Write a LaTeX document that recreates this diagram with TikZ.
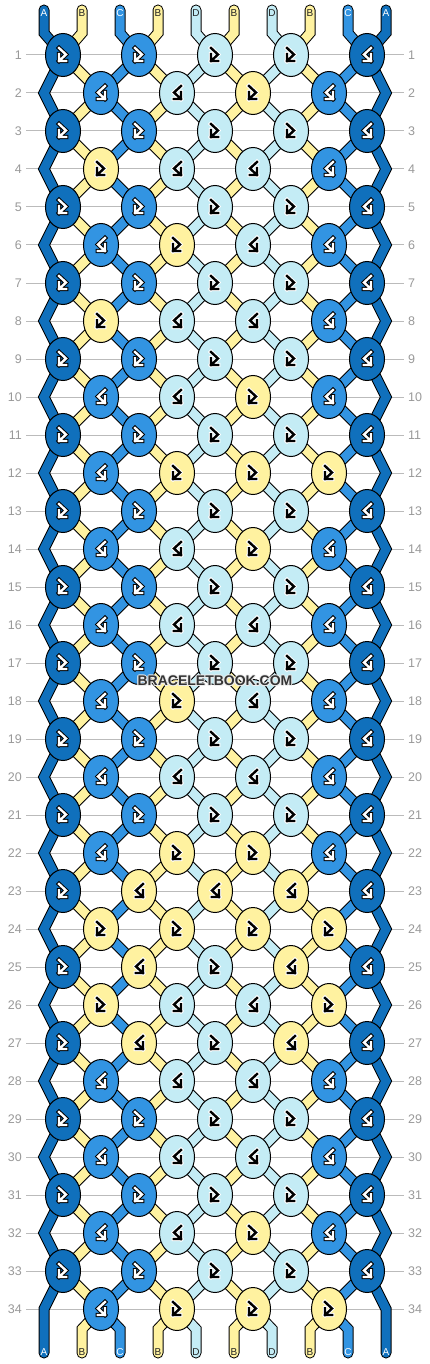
\documentclass[tikz,border=0pt]{standalone}
\usepackage{fontspec}
\setmainfont{Liberation Sans}
\usetikzlibrary{shapes.geometric}
\definecolor{cA}{HTML}{1070BC}
\definecolor{cB}{HTML}{FFF2A0}
\definecolor{cC}{HTML}{3294E2}
\definecolor{cD}{HTML}{C4ECF5}
\colorlet{fgA}{white}\colorlet{bgA}{black}
\colorlet{fgC}{white}\colorlet{bgC}{black}
\colorlet{fgB}{black}\colorlet{bgB}{white}
\colorlet{fgD}{black}\colorlet{bgD}{white}
\colorlet{tlA}{white}\colorlet{tlC}{white}
\definecolor{tlB}{HTML}{222222}\definecolor{tlD}{HTML}{222222}
\definecolor{rowgray}{HTML}{999999}
\definecolor{linegray}{HTML}{BBBBBB}
\definecolor{wmgray}{HTML}{333333}
\def\rowsdata{%
1/{A/f,C/f,D/f,D/f,A/b},
2/{C/b,D/b,B/f,C/b},
3/{A/f,C/f,D/f,D/f,A/b},
4/{B/f,D/b,D/b,C/b},
5/{A/f,C/f,D/f,D/f,A/b},
6/{C/b,B/f,D/b,C/b},
7/{A/f,C/f,D/f,D/f,A/b},
8/{B/f,D/b,D/b,C/b},
9/{A/f,C/f,D/f,D/f,A/b},
10/{C/b,D/b,B/f,C/b},
11/{A/f,C/f,D/f,D/f,A/b},
12/{C/b,B/f,B/f,B/f},
13/{A/f,C/f,D/f,D/f,A/b},
14/{C/b,D/b,B/f,C/b},
15/{A/f,C/f,D/f,D/f,A/b},
16/{C/b,D/b,D/b,C/b},
17/{A/f,C/f,D/f,D/f,A/b},
18/{C/b,B/f,D/b,C/b},
19/{A/f,C/f,D/f,D/f,A/b},
20/{C/b,D/b,D/b,C/b},
21/{A/f,C/f,D/f,D/f,A/b},
22/{C/b,B/f,B/f,C/b},
23/{A/f,B/b,B/b,B/b,A/b},
24/{B/f,B/f,B/f,B/f},
25/{A/f,B/b,D/f,B/b,A/b},
26/{B/f,D/b,D/b,B/f},
27/{A/f,B/b,D/f,B/b,A/b},
28/{C/b,D/b,D/b,C/b},
29/{A/f,C/f,D/f,D/f,A/b},
30/{C/b,D/b,D/b,C/b},
31/{A/f,C/f,D/f,D/f,A/b},
32/{C/b,D/b,B/f,C/b},
33/{A/f,C/f,D/f,D/f,A/b},
34/{C/b,B/f,B/f,B/f}}
\begin{document}
\begin{tikzpicture}[x=1pt,y=-1pt,
  knotsty/.style={ellipse, draw=black, line width=1pt, minimum width=35pt, minimum height=43pt, inner sep=0pt},
  strout/.style={line width=11pt, draw=black, line cap=round, line join=miter},
  strin/.style={line width=9pt, line cap=round, line join=miter},
  rowlab/.style={text=rowgray, font=\fontsize{12.5}{13}\selectfont, inner sep=0pt},
  rowline/.style={draw=linegray, line width=1pt, shorten <=4pt, shorten >=4pt},
  endlab/.style={font=\fontsize{10}{10}\selectfont, inner sep=0pt},
  glout/.style={line width=4.4pt, line cap=rect, line join=miter},
  glin/.style={line width=2.4pt, line cap=rect, line join=miter},
  wmtext/.style={font=\bfseries\fontsize{14}{14}\selectfont, inner sep=0pt}]
\fill[white] (0,0) rectangle (430,1364);
\useasboundingbox (0,0) rectangle (430,1364);
% row labels and rules
\foreach \r in {1,...,34}{
  \pgfmathtruncatemacro\y{55+38*(\r-1)}
  \node[rowlab, anchor=east] (rl-\r) at (22,\y) {\r};
  \node[rowlab, anchor=west] (rr-\r) at (408,\y) {\r};
  \draw[rowline] (rl-\r.east) -- (rr-\r.west);
}
% knot centres and edge points
\foreach \r/\ks in \rowsdata {
  \pgfmathtruncatemacro\y{55+38*(\r-1)}
  \ifodd\r\relax\def\xo{63}\else\def\xo{101}\fi
  \foreach \kc/\kt [count=\j from 0] in \ks {
    \pgfmathtruncatemacro\x{\xo+76*\j}
    \coordinate (kc-\r-\j) at (\x,\y);
  }
  \ifodd\r\relax\else
    \coordinate (eL-\r) at (44,\y);
    \coordinate (eR-\r) at (386,\y);
  \fi
}
% string points
\foreach \i in {0,...,9}{
  \pgfmathtruncatemacro\sx{44+38*\i}
  \coordinate (t-\i) at (\sx,10);
  \coordinate (tb-\i) at (\sx,33);
  \coordinate (bb-\i) at (\sx,1329);
  \coordinate (b-\i) at (\sx,1353);
  \foreach \r in {1,...,34}{
    \ifodd\r\relax
      \pgfmathtruncatemacro\j{floor(\i/2)}
      \coordinate (s-\i-\r) at (kc-\r-\j);
    \else
      \ifnum\i=0 \coordinate (s-\i-\r) at (eL-\r);
      \else\ifnum\i=9 \coordinate (s-\i-\r) at (eR-\r);
      \else
        \pgfmathtruncatemacro\j{floor((\i-1)/2)}
        \coordinate (s-\i-\r) at (kc-\r-\j);
      \fi\fi
    \fi
  }
}
% strings: outlines then colours
\foreach \i in {0,...,9}{
  \draw[strout] (t-\i) -- (tb-\i) \foreach \r in {1,...,34}{ -- (s-\i-\r)} -- (bb-\i) -- (b-\i);
}
\foreach \i/\sc in {0/A,1/B,2/C,3/B,4/D,5/B,6/D,7/B,8/C,9/A}{
  \draw[strin, draw=c\sc] (t-\i) -- (tb-\i) \foreach \r in {1,...,34}{ -- (s-\i-\r)} -- (bb-\i) -- (b-\i);
  \node[endlab, text=tl\sc] (lt-\i) at (t-\i) [yshift=-3pt] {\sc};
  \node[endlab, text=tl\sc] (lb-\i) at (b-\i) [yshift=1pt] {\sc};
}
% knots
\foreach \r/\ks in \rowsdata {
  \foreach \kc/\kt [count=\j from 0] in \ks {
    \node[knotsty, fill=c\kc] (k-\r-\j) at (kc-\r-\j) {};
    \if\kt b\def\xs{-1}\else\def\xs{1}\fi
    \begin{scope}[shift={(kc-\r-\j)}, xscale=\xs]
      \draw[glout, draw=bg\kc] (-4,-7) -- (3,-0.5) -- (-4,6) (3.2,6) -- (-4,6) -- (-4,-0.8);
      \draw[glin, draw=fg\kc] (-4,-7) -- (3,-0.5) -- (-4,6) (3.2,6) -- (-4,6) -- (-4,-0.8);
    \end{scope}
  }
}
% watermark with light halo
\foreach \dx/\dy in {-1/0,1/0,0/-1,0/1,-0.7/-0.7,0.7/0.7,-0.7/0.7,0.7/-0.7}{
  \node[wmtext, text=white!85!gray] at (215+\dx,681+\dy) {BRACELETBOOK.COM};
}
\node[wmtext, text=wmgray] (wm) at (215,681) {BRACELETBOOK.COM};
\end{tikzpicture}
\end{document}
